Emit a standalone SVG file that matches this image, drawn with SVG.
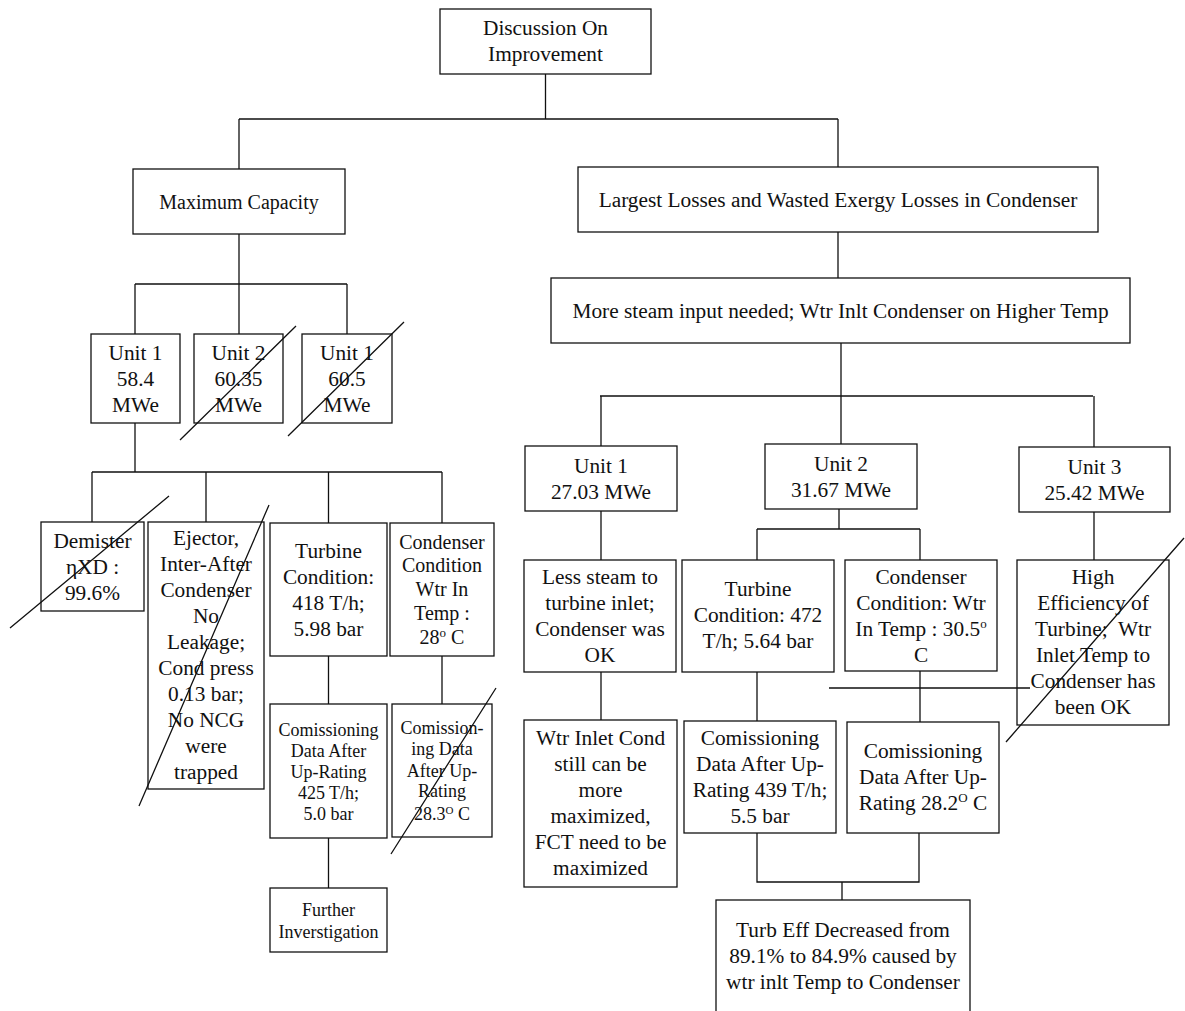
<svg xmlns="http://www.w3.org/2000/svg" width="1185" height="1011" viewBox="0 0 1185 1011">
<style>
.box{fill:#fff;stroke:#111;stroke-width:1.3}
.c{fill:none;stroke:#111;stroke-width:1.3}
.t{font-family:"Liberation Serif","Times New Roman",serif;font-size:21.33px;text-anchor:middle;fill:#111}
.m{font-size:20px}
.s{font-size:18px}
.sup{font-size:13px}
.sup2{font-size:11px}
</style>
<rect width="1185" height="1011" fill="#fff"/>
<g id="connectors">
<path class="c" d="M545.5 74V119M239 119H838M239 119V169M838 119V167M838 232V278M841 343V396M600 396H1093M601 396V446M841 396V444M1094 396V447"/>
<path class="c" d="M239 234V284M135 284H347M135 284V334M239 284V334M347 284V334M135 423V472M92 472H442M92 472V522M206 472V522M328.5 472V523M442 472V523M328.5 656V704M328.5 838V888M442 656V704"/>
<path class="c" d="M601 511V560M839 509V529M757 529H920M757 529V560M920 529V560M1094 512V560M601 672V720M757 672V721M920 671V722M757 833V882H919V833M842 882V900"/>
</g>
<g id="n-top"><rect class="box" x="440" y="9" width="211" height="65"/><text class="t" x="545.5" y="35">Discussion On</text><text class="t" x="545.5" y="61">Improvement</text></g>
<g id="n-maxcap"><rect class="box" x="133" y="169" width="212" height="65"/><text class="t m" x="239" y="208.5">Maximum Capacity</text></g>
<g id="n-largest"><rect class="box" x="578" y="167" width="520" height="65"/><text class="t" x="838" y="206.5">Largest Losses and Wasted Exergy Losses in Condenser</text></g>
<g id="n-moresteam"><rect class="box" x="551" y="278" width="579" height="65"/><text class="t" x="840.5" y="318">More steam input needed; Wtr Inlt Condenser on Higher Temp</text></g>
<g id="n-l-unit1"><rect class="box" x="91" y="334" width="89" height="89"/><text class="t" x="135.5" y="360">Unit 1</text><text class="t" x="135.5" y="386">58.4</text><text class="t" x="135.5" y="412">MWe</text></g>
<g id="n-l-unit2"><rect class="box" x="194" y="334" width="89" height="89"/><text class="t" x="238.5" y="360">Unit 2</text><text class="t" x="238.5" y="386">60.35</text><text class="t" x="238.5" y="412">MWe</text></g>
<g id="n-l-unit3"><rect class="box" x="302" y="334" width="90" height="89"/><text class="t" x="347" y="360">Unit 1</text><text class="t" x="347" y="386">60.5</text><text class="t" x="347" y="412">MWe</text></g>
<g id="n-demister"><rect class="box" x="41" y="522" width="103" height="89"/><text class="t" x="92.5" y="548">Demister</text><text class="t" x="92.5" y="574">ηXD :</text><text class="t" x="92.5" y="600">99.6%</text></g>
<g id="n-ejector"><rect class="box" x="148" y="522" width="116" height="267"/>
<text class="t" x="206" y="545">Ejector,</text><text class="t" x="206" y="571">Inter-After</text><text class="t" x="206" y="597">Condenser</text><text class="t" x="206" y="623">No</text><text class="t" x="206" y="649">Leakage;</text><text class="t" x="206" y="675">Cond press</text><text class="t" x="206" y="701">0.13 bar;</text><text class="t" x="206" y="727">No NCG</text><text class="t" x="206" y="753">were</text><text class="t" x="206" y="779">trapped</text></g>
<g id="n-l-turbine"><rect class="box" x="270" y="523" width="117" height="133"/><text class="t" x="328.5" y="558">Turbine</text><text class="t" x="328.5" y="584">Condition:</text><text class="t" x="328.5" y="610">418 T/h;</text><text class="t" x="328.5" y="636">5.98 bar</text></g>
<g id="n-l-condenser"><rect class="box" x="390" y="523" width="104" height="133"/><text class="t m" x="442" y="548.5">Condenser</text><text class="t m" x="442" y="572">Condition</text><text class="t m" x="442" y="596">Wtr In</text><text class="t m" x="442" y="619.5">Temp :</text><text class="t m" x="442" y="643.5">28<tspan class="sup" dy="-7">o</tspan><tspan dy="7"> C</tspan></text></g>
<g id="n-l-comm1"><rect class="box" x="270" y="704" width="117" height="134"/><text class="t s" x="328.5" y="736">Comissioning</text><text class="t s" x="328.5" y="757">Data After</text><text class="t s" x="328.5" y="778">Up-Rating</text><text class="t s" x="328.5" y="799">425 T/h;</text><text class="t s" x="328.5" y="820">5.0 bar</text></g>
<g id="n-l-comm2"><rect class="box" x="392" y="704" width="100" height="133"/><text class="t s" x="442" y="734">Comission-</text><text class="t s" x="442" y="755">ing Data</text><text class="t s" x="442" y="777">After Up-</text><text class="t s" x="442" y="797">Rating</text><text class="t s" x="442" y="820">28.3<tspan class="sup2" dy="-6">O</tspan><tspan dy="6"> C</tspan></text></g>
<g id="n-further"><rect class="box" x="270" y="888" width="117" height="64"/><text class="t s" x="328.5" y="916">Further</text><text class="t s" x="328.5" y="938">Inverstigation</text></g>
<g id="n-r-unit1"><rect class="box" x="525" y="446" width="152" height="65"/><text class="t" x="601" y="472.5">Unit 1</text><text class="t" x="601" y="498.5">27.03 MWe</text></g>
<g id="n-r-unit2"><rect class="box" x="765" y="444" width="152" height="65"/><text class="t" x="841" y="470.5">Unit 2</text><text class="t" x="841" y="496.5">31.67 MWe</text></g>
<g id="n-r-unit3"><rect class="box" x="1019" y="447" width="151" height="65"/><text class="t" x="1094.5" y="473.5">Unit 3</text><text class="t" x="1094.5" y="499.5">25.42 MWe</text></g>
<g id="n-lesssteam"><rect class="box" x="524" y="560" width="152" height="112"/><text class="t" x="600" y="584">Less steam to</text><text class="t" x="600" y="610">turbine inlet;</text><text class="t" x="600" y="636">Condenser was</text><text class="t" x="600" y="662">OK</text></g>
<g id="n-r-turbine"><rect class="box" x="682" y="560" width="152" height="112"/><text class="t" x="758" y="596">Turbine</text><text class="t" x="758" y="622">Condition: 472</text><text class="t" x="758" y="648">T/h; 5.64 bar</text></g>
<g id="n-r-condenser"><rect class="box" x="845" y="560" width="152" height="111"/><text class="t" x="921" y="584">Condenser</text><text class="t" x="921" y="610">Condition: Wtr</text><text class="t" x="921" y="636">In Temp : 30.5<tspan class="sup" dy="-8">o</tspan></text><text class="t" x="921" y="662">C</text></g>
<g id="n-higheff"><rect class="box" x="1017" y="560" width="152" height="165"/><text class="t" x="1093" y="584">High</text><text class="t" x="1093" y="610">Efficiency of</text><text class="t" x="1093" y="636" xml:space="preserve">Turbine;  Wtr</text><text class="t" x="1093" y="662">Inlet Temp to</text><text class="t" x="1093" y="688">Condenser has</text><text class="t" x="1093" y="714">been OK</text></g>
<g id="n-wtrinlet"><rect class="box" x="524" y="720" width="153" height="167"/><text class="t" x="600.5" y="745">Wtr Inlet Cond</text><text class="t" x="600.5" y="771">still can be</text><text class="t" x="600.5" y="797">more</text><text class="t" x="600.5" y="823">maximized,</text><text class="t" x="600.5" y="849">FCT need to be</text><text class="t" x="600.5" y="875">maximized</text></g>
<g id="n-r-comm1"><rect class="box" x="684" y="721" width="152" height="112"/><text class="t" x="760" y="745">Comissioning</text><text class="t" x="760" y="771">Data After Up-</text><text class="t" x="760" y="797">Rating 439 T/h;</text><text class="t" x="760" y="823">5.5 bar</text></g>
<g id="n-r-comm2"><rect class="box" x="847" y="722" width="152" height="111"/><text class="t" x="923" y="758">Comissioning</text><text class="t" x="923" y="784">Data After Up-</text><text class="t" x="923" y="810">Rating 28.2<tspan class="sup" dy="-8">O</tspan><tspan dy="8"> C</tspan></text></g>
<g id="n-turbeff"><rect class="box" x="716" y="900" width="254" height="130"/><text class="t" x="843" y="937">Turb Eff Decreased from</text><text class="t" x="843" y="963">89.1% to 84.9% caused by</text><text class="t" x="843" y="989">wtr inlt Temp to Condenser</text></g>
<g id="strikes">
<path class="c" d="M180 440L296 326M288 436L404 322M10 628L169 496M139 806L269 505M391 854L496 688M1006 742L1184 538M829 688H1030"/>
</g>
</svg>
